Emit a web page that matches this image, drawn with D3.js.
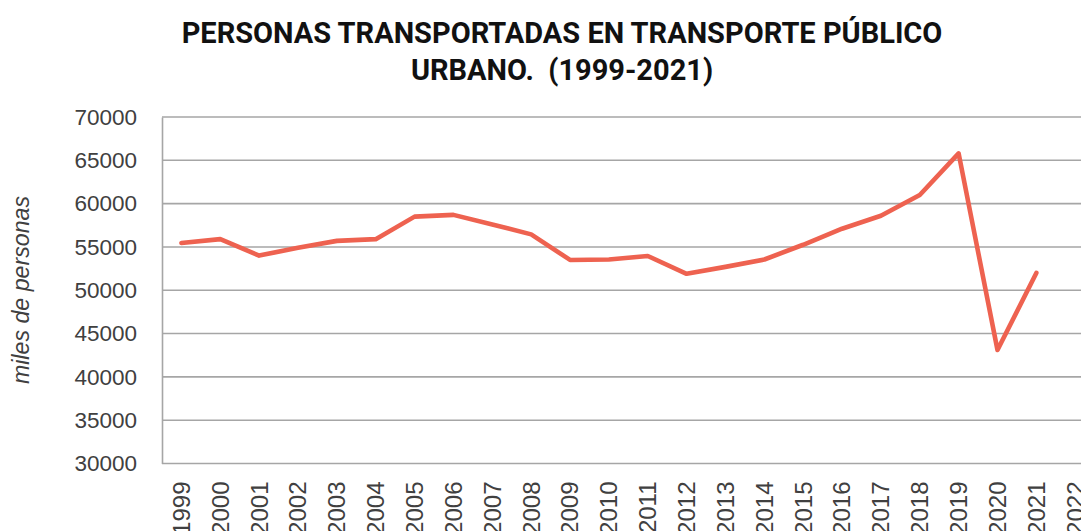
<!DOCTYPE html>
<html>
<head>
<meta charset="utf-8">
<script src="https://cdn.jsdelivr.net/npm/d3@7/dist/d3.min.js"></script>
<style>
  html, body { margin: 0; padding: 0; background: #fff; overflow: hidden; }
  svg { display: block; }
</style>
</head>
<body>
<svg id="chart" width="1081" height="531"></svg>
<script>
// Urban public transport passengers, thousands of people per year
const years = ["1999","2000","2001","2002","2003","2004","2005","2006","2007","2008","2009","2010",
               "2011","2012","2013","2014","2015","2016","2017","2018","2019","2020","2021","2022"];
const passengers = [55450, 55900, 54000, 54900, 55700, 55900, 58500, 58700, 57600, 56450, 53500, 53550,
                    53950, 51900, 52700, 53550, 55250, 57100, 58600, 61000, 65800, 43100, 52000];
const yTicks = [30000, 35000, 40000, 45000, 50000, 55000, 60000, 65000, 70000];
const titleLines = ["PERSONAS TRANSPORTADAS EN TRANSPORTE PÚBLICO", "URBANO.  (1999-2021)"];
const yTitle = "miles de personas";

const svg = d3.select("#chart");
const plotLeft = 162, plotTop = 117, plotBottom = 463.5, band = 38.86;
const plotRight = plotLeft + band * years.length;

const x = d3.scaleBand().domain(years).range([plotLeft, plotRight]).padding(0);
const y = d3.scaleLinear().domain([30000, 70000]).range([plotBottom, plotTop]);

// horizontal gridlines
svg.append("g")
  .selectAll("line")
  .data(yTicks)
  .join("line")
  .attr("x1", plotLeft).attr("x2", plotRight)
  .attr("y1", d => y(d)).attr("y2", d => y(d))
  .attr("stroke", "#a6a6a6").attr("stroke-width", 1.6);

// left axis with tick labels
const yAxis = svg.append("g")
  .attr("transform", `translate(${plotLeft},0)`)
  .call(d3.axisLeft(y).tickValues(yTicks).tickSize(0).tickPadding(25).tickFormat(d3.format("d")));
yAxis.select(".domain").attr("stroke", "#a6a6a6").attr("stroke-width", 1.6);
yAxis.selectAll("text")
  .attr("font-family", "'Liberation Sans', Arial, sans-serif")
  .attr("font-size", 22.5).attr("fill", "#404040");

// bottom axis with rotated year labels
const xAxis = svg.append("g")
  .attr("transform", `translate(0,${plotBottom})`)
  .call(d3.axisBottom(x).tickSize(0));
xAxis.select(".domain").remove();
xAxis.selectAll("text")
  .attr("font-family", "'Liberation Sans', Arial, sans-serif")
  .attr("font-size", 24).attr("fill", "#404040")
  .attr("text-anchor", "end")
  .attr("transform", "rotate(-90)")
  .attr("x", -18).attr("y", 0).attr("dy", "0.35em");

// series line
const line = d3.line()
  .x((d, i) => x(years[i]) + x.bandwidth() / 2)
  .y(d => y(d));
svg.append("path")
  .datum(passengers)
  .attr("d", line)
  .attr("fill", "none")
  .attr("stroke", "#ee6250")
  .attr("stroke-width", 4.6)
  .attr("stroke-linejoin", "round")
  .attr("stroke-linecap", "round");

// vertical axis title
svg.append("text")
  .attr("transform", "translate(29,290) rotate(-90)")
  .attr("text-anchor", "middle")
  .attr("font-family", "'Liberation Sans', Arial, sans-serif")
  .attr("font-style", "italic")
  .attr("font-size", 23.2).attr("fill", "#404040")
  .text(yTitle);

// chart title (second line keeps its double space)
svg.append("g")
  .selectAll("text")
  .data(titleLines)
  .join("text")
  .attr("x", 562).attr("y", (d, i) => 43 + i * 37)
  .attr("text-anchor", "middle")
  .attr("font-family", "Roboto, sans-serif")
  .attr("font-weight", "bold")
  .attr("font-size", 29)
  .attr("fill", "#111")
  .style("white-space", "pre")
  .text(d => d);
</script>
</body>
</html>
